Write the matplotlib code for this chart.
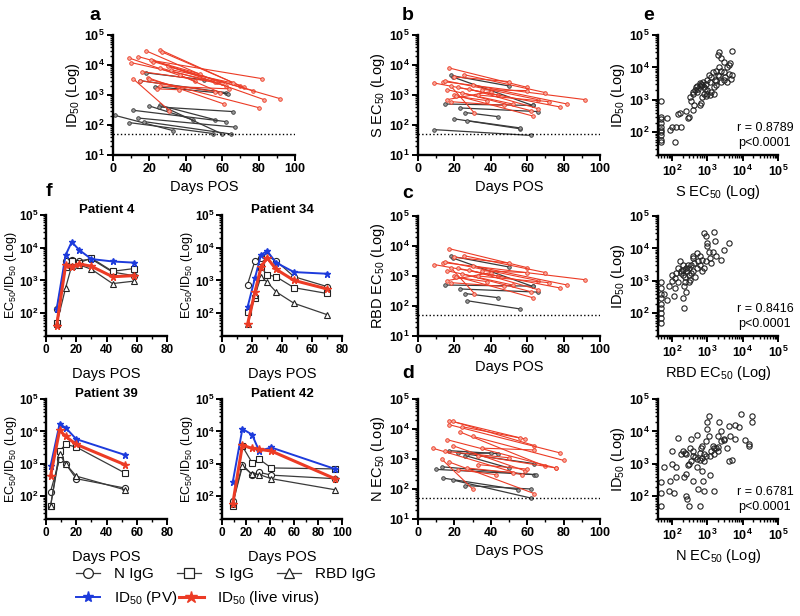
import matplotlib as mpl
import matplotlib.pyplot as plt
import numpy as np
from matplotlib.ticker import LogLocator, FuncFormatter, NullFormatter, MultipleLocator
from matplotlib.lines import Line2D

config = {
    "font.family": ['Liberation Sans', 'DejaVu Sans'],
    "mathtext.fontset": 'custom',
    "mathtext.rm": 'Liberation Sans',
    "mathtext.bf": 'Liberation Sans:bold',
    "mathtext.it": 'Liberation Sans:italic',
}
mpl.rcParams.update(config)

# ---- panel a : ID50 over time (each subject = one line) ----
a_red_days = [[9, 45], [18, 57], [26, 70], [27, 72], [14, 48], [10, 60], [22, 82], [22, 77], [16, 56],
              [11, 31], [19, 61], [20, 80], [26, 64], [26, 62], [30, 92], [21, 83], [15, 56], [32, 66],
              [37, 59], [24, 36]]
a_red_vals = [[17000, 3000], [30000, 2800], [32000, 2000], [27000, 1800], [19000, 5000], [12000, 2500],
              [14000, 3500], [13000, 1400], [6000, 2700], [3500, 300], [3800, 500], [3300, 380],
              [2000, 1600], [8000, 2000], [9000, 750], [15000, 700], [3000, 1300], [7000, 2500],
              [4500, 1200], [1600, 1500]]
a_blk_days = [[18, 50], [15, 62], [23, 63], [20, 44], [26, 56], [25, 66], [11, 62], [1, 33], [14, 67],
              [9, 55], [17, 65], [30, 60]]
a_blk_vals = [[5500, 3200], [3000, 1200], [1900, 1100], [430, 150], [450, 150], [400, 280], [310, 130],
              [210, 65], [170, 85], [120, 52], [130, 50], [350, 50]]

# ---- panel b : S EC50 ----
b_red_days = [[17, 60], [9, 44], [14, 92], [15, 66], [20, 50], [25, 70], [16, 52], [18, 31], [20, 63],
              [16, 40], [22, 78], [28, 66], [35, 60], [30, 82], [18, 47], [24, 62], [21, 38], [33, 72]]
b_red_vals = [[8000, 1800], [2500, 1000], [2800, 700], [3000, 700], [4000, 2800], [4800, 1200],
              [1500, 500], [2000, 250], [1000, 200], [700, 1300], [1800, 400], [1600, 350],
              [1500, 1400], [2200, 500], [600, 450], [1200, 300], [900, 650], [1000, 600]]
b_blk_days = [[18, 50], [15, 63], [23, 66], [26, 44], [20, 56], [27, 56], [9, 62], [19, 63]]
b_blk_vals = [[4500, 2000], [500, 450], [370, 280], [260, 190], [160, 75], [140, 80], [70, 45], [4000, 450]]

# ---- panel c : RBD EC50 ----
c_red_days = [[17, 60], [9, 44], [14, 92], [15, 66], [20, 50], [25, 70], [16, 52], [18, 31], [20, 63],
              [16, 40], [22, 78], [28, 66], [35, 60], [30, 82], [18, 47], [24, 62], [21, 38], [33, 72]]
c_red_vals = [[8200, 1900], [2400, 1000], [2800, 750], [3000, 700], [4200, 2700], [4800, 1300],
              [1500, 500], [1900, 260], [1000, 190], [700, 1300], [1800, 400], [1600, 350],
              [1500, 1300], [2200, 500], [600, 450], [1200, 300], [900, 650], [1000, 600]]
c_blk_days = [[18, 50], [15, 63], [23, 66], [26, 44], [27, 56], [19, 63]]
c_blk_vals = [[4600, 2000], [500, 460], [370, 290], [260, 190], [150, 80], [4000, 450]]

# ---- panel d : N EC50 ----
d_red_days = [[17, 59], [19, 64], [17, 78], [24, 56], [23, 70], [30, 80], [16, 76], [8, 57], [19, 59],
              [15, 50], [13, 30], [17, 64], [22, 43], [33, 76], [33, 60], [27, 52], [35, 64]]
d_red_vals = [[19000, 4600], [18000, 2800], [14000, 1600], [12000, 5000], [8000, 570], [5700, 900],
              [4400, 500], [2300, 300], [2800, 400], [1800, 1100], [1000, 100], [800, 70], [440, 300],
              [1300, 500], [650, 460], [500, 350], [2300, 2000]]
d_blk_days = [[17, 44], [22, 64], [26, 50], [13, 64], [10, 65], [14, 55], [19, 62], [26, 62], [27, 40]]
d_blk_vals = [[1900, 1500], [1600, 700], [1300, 500], [550, 300], [450, 300], [230, 95], [200, 50],
              [130, 100], [1500, 1600]]

# ---- panel e : correlations ----
e_s_ec50 = [50, 50, 50, 50, 50, 50, 50, 50, 50, 50, 70, 90, 100, 130, 120, 180, 150, 170, 250, 280, 300,
            330, 350, 380, 400, 420, 450, 480, 500, 550, 600, 650, 700, 750, 800, 850, 900, 1000, 1100,
            1200, 1300, 1400, 1500, 1600, 1700, 1800, 2000, 2200, 2500, 2000, 2200, 2500, 3000, 3500,
            4000, 4500, 5000, 5000, 4800, 3000, 3200, 1000, 900, 1200, 600, 650, 700, 1000, 400, 500,
            600, 1500, 1800, 2500, 3500, 3000, 4000, 2200, 1300, 800]
e_s_id50 = [900, 300, 250, 200, 150, 120, 100, 80, 60, 50, 280, 120, 150, 150, 50, 150, 380, 400, 450,
            280, 300, 1200, 900, 1500, 500, 700, 2000, 2500, 1800, 2200, 2600, 3000, 2800, 3500, 1500,
            2200, 3000, 4000, 6000, 3500, 5000, 7000, 2500, 4200, 7500, 3800, 6000, 5500, 8000, 25000,
            30000, 20000, 15000, 10000, 12000, 14000, 33000, 6000, 4500, 4000, 5000, 1500, 1300, 1400,
            700, 800, 1200, 2000, 1800, 2600, 3200, 1500, 2800, 3500, 3500, 7000, 6500, 10000, 1800, 2500]

e_rbd_ec50 = [50, 50, 50, 50, 50, 50, 50, 50, 50, 60, 70, 80, 100, 100, 110, 120, 130, 150, 170, 180,
              200, 200, 220, 220, 230, 240, 250, 260, 280, 300, 330, 350, 380, 400, 420, 450, 500, 500,
              550, 600, 700, 800, 900, 1000, 1000, 1100, 1200, 1300, 1400, 1500, 1600, 1800, 2500, 3000,
              4000, 200, 300, 150, 120, 400, 600, 700, 800, 900, 300, 350, 250, 180, 200]
e_rbd_id50 = [900, 600, 400, 300, 200, 150, 100, 70, 50, 400, 250, 700, 1000, 1500, 350, 1200, 1800, 2500,
              4000, 2000, 3000, 1500, 150, 700, 900, 1300, 450, 2000, 3000, 2500, 1100, 1800, 5000, 6000,
              3500, 1300, 2500, 7000, 4000, 6000, 4500, 30000, 25000, 12000, 15000, 8000, 5000, 3500,
              8000, 33000, 17000, 6000, 4500, 9000, 15000, 300, 900, 900, 600, 2000, 3000, 2000, 2500,
              4000, 1500, 3000, 2500, 1700, 2200]

e_n_ec50 = [50, 50, 50, 60, 80, 90, 100, 100, 110, 130, 130, 150, 180, 200, 220, 230, 250, 250, 270, 280,
            300, 300, 330, 350, 380, 400, 450, 500, 500, 550, 600, 600, 650, 700, 700, 750, 800, 800, 900,
            900, 1000, 1000, 1100, 1100, 1200, 1300, 1400, 1500, 1500, 1800, 2000, 2200, 2500, 2000, 3000,
            3500, 4000, 4000, 4500, 5000, 6000, 6000, 8000, 9000, 12000, 15000, 18000, 18000, 15000, 2500,
            3000, 1500, 700, 500, 400, 350, 250, 600, 800, 1200, 2000]
e_n_id50 = [50, 130, 280, 800, 150, 300, 1000, 2500, 130, 400, 800, 6500, 2000, 2500, 400, 2200, 100, 500,
            80, 900, 1000, 50, 3000, 6000, 300, 2500, 1600, 7500, 800, 170, 50, 1300, 3000, 600, 1500, 300,
            150, 2000, 5000, 1800, 12000, 20000, 7000, 30000, 450, 2500, 3500, 150, 2000, 3000, 2500, 20000,
            10000, 7000, 6000, 3000, 15000, 1200, 7000, 1300, 16000, 6000, 14000, 35000, 5500, 4000, 30000,
            20000, 3500, 5000, 5500, 3000, 3500, 1400, 1800, 1200, 2000, 2200, 1200, 1800, 3200]

# ---- panel f : individual patients ----
p_names = ['Patient 4', 'Patient 34', 'Patient 39', 'Patient 42']
p_days = [[7, 13, 17, 22, 30, 44, 58],
          [17, 22, 26, 30, 36, 48, 70],
          [3, 9, 13, 20, 52],
          [9, 17, 25, 31, 41, 94]]
p_n = [[130, 4000, 4200, 4000, 4500, 1800, 1400],
       [750, 4000, 5000, 5500, 4000, 1300, 650],
       [140, 1400, 1000, 350, 180],
       [70, 950, 470, 550, 450, 350]]
p_s = [[50, 2500, 4000, 3500, 4800, 1900, 2300],
       [110, 300, 2500, 1500, 1300, 600, 400],
       [50, 2500, 4000, 3300, 530],
       [50, 3500, 1100, 1400, 750, 700]]
p_rbd = [[45, 600, 2800, 3000, 2200, 800, 950],
         [45, 350, 1300, 900, 450, 200, 90],
         [50, 2000, 1000, 420, 160],
         [60, 850, 480, 470, 350, 160]]
p_pv = [[130, 6000, 15000, 8500, 4500, 3800, 3500],
        [150, 1200, 6000, 8000, 3500, 1800, 1600],
        [850, 17000, 13000, 5800, 1900],
        [280, 12000, 8000, 2500, 3200, 700]]
p_live = [[40, 3000, 2600, 3200, 2700, 1300, 1400],
          [45, 450, 2500, 5000, 2200, 1000, 550],
          [420, 11000, 7000, 4000, 950],
          [60, 3800, 3000, 2800, 2500, 350]]
p_xmax = [80, 80, 80, 100]

RED = '#ec3b25'
BLUE = '#1d3bdc'
GREY = '#3a3a3a'
W, H = 800, 616


def pos(l, r, t, b):
    return [l / W, 1 - b / H, (r - l) / W, (b - t) / H]


def logfmt(v, p):
    return r'$\mathbf{10^{%d}}$' % int(round(np.log10(v)))


def style(ax, size=9, pad=2):
    for s in ['top', 'right']:
        ax.spines[s].set_visible(False)
    for s in ['left', 'bottom']:
        ax.spines[s].set_linewidth(1.7)
    ax.tick_params(which='major', length=4, width=1.4, labelsize=size, pad=pad)
    ax.tick_params(which='minor', length=2.3, width=1.0)


def logaxis(axis, lo, hi):
    axis.set_major_locator(LogLocator(base=10, numticks=10))
    axis.set_minor_locator(LogLocator(base=10, subs=np.arange(2, 10), numticks=10))
    axis.set_major_formatter(FuncFormatter(logfmt))
    axis.set_minor_formatter(NullFormatter())


def bold_x(ax):
    for t in ax.get_xticklabels():
        t.set_fontweight('bold')


def time_panel(ax, red_d, red_v, blk_d, blk_v, ylab):
    for d, v in zip(blk_d, blk_v):
        ax.plot(d, v, '-o', color=GREY, lw=0.9, ms=2.6, mfc='#999999', mec=GREY, mew=0.6)
    for d, v in zip(red_d, red_v):
        ax.plot(d, v, '-o', color=RED, lw=0.8, ms=2.6, mfc='#f7a99c', mec=RED, mew=0.6)
    ax.axhline(50, ls=':', color='k', lw=1.0)
    ax.set_yscale('log')
    ax.set_ylim(10, 1e5)
    ax.set_xlim(0, 100)
    logaxis(ax.yaxis, 10, 1e5)
    ax.xaxis.set_major_locator(MultipleLocator(20))
    ax.xaxis.set_minor_locator(MultipleLocator(10))
    style(ax)
    bold_x(ax)
    ax.set_xlabel('Days POS', fontsize=10.5, labelpad=3)
    ax.set_ylabel(ylab, fontsize=10.5, labelpad=1)


def corr_panel(ax, x, y, xlab, r):
    ax.plot(x, y, 'o', ms=3.8, mfc='none', mec='#222222', mew=0.8, clip_on=False)
    ax.set_xscale('log')
    ax.set_yscale('log')
    ax.set_xlim(40, 1e5)
    ax.set_ylim(20, 1e5)
    logaxis(ax.xaxis, 40, 1e5)
    logaxis(ax.yaxis, 20, 1e5)
    style(ax)
    ax.set_xlabel(xlab, fontsize=10.5, labelpad=3)
    ax.set_ylabel('ID$_{50}$ (Log)', fontsize=10.5, labelpad=1)
    ax.text(1.13, 0.225, 'r = ' + r, transform=ax.transAxes, ha='right', va='center', fontsize=9)
    ax.text(1.11, 0.1, 'p<0.0001', transform=ax.transAxes, ha='right', va='center', fontsize=9)


fig = plt.figure(figsize=(8, 6.16), dpi=100)

ax_a = fig.add_axes(pos(113, 295, 35, 155))
time_panel(ax_a, a_red_days, a_red_vals, a_blk_days, a_blk_vals, 'ID$_{50}$ (Log)')
ax_b = fig.add_axes(pos(418, 600, 35, 155))
time_panel(ax_b, b_red_days, b_red_vals, b_blk_days, b_blk_vals, 'S EC$_{50}$ (Log)')
ax_c = fig.add_axes(pos(418, 600, 216, 336))
time_panel(ax_c, c_red_days, c_red_vals, c_blk_days, c_blk_vals, 'RBD EC$_{50}$ (Log)')
ax_d = fig.add_axes(pos(418, 600, 399, 519))
time_panel(ax_d, d_red_days, d_red_vals, d_blk_days, d_blk_vals, 'N EC$_{50}$ (Log)')

ax_e1 = fig.add_axes(pos(658, 778, 35, 155))
corr_panel(ax_e1, e_s_ec50, e_s_id50, 'S EC$_{50}$ (Log)', '0.8789')
ax_e2 = fig.add_axes(pos(658, 778, 216, 336))
corr_panel(ax_e2, e_rbd_ec50, e_rbd_id50, 'RBD EC$_{50}$ (Log)', '0.8416')
ax_e3 = fig.add_axes(pos(658, 778, 399, 519))
corr_panel(ax_e3, e_n_ec50, e_n_id50, 'N EC$_{50}$ (Log)', '0.6781')

p_rects = [pos(46, 167, 215, 336), pos(222, 342, 215, 336), pos(46, 167, 399, 519), pos(222, 342, 399, 519)]
for i in range(4):
    ax = fig.add_axes(p_rects[i])
    d = p_days[i]
    ax.plot(d, p_n[i], '-o', color=GREY, lw=0.9, ms=4.4, mfc='white', mec='#222222', mew=0.8)
    ax.plot(d, p_s[i], '-s', color=GREY, lw=0.9, ms=4.2, mfc='white', mec='#222222', mew=0.8)
    ax.plot(d, p_rbd[i], '-^', color=GREY, lw=0.9, ms=4.4, mfc='white', mec='#222222', mew=0.8)
    ax.plot(d, p_pv[i], '-*', color=BLUE, lw=1.4, ms=4.5)
    ax.plot(d, p_live[i], '-*', color=RED, lw=2.2, ms=5.5)
    ax.set_yscale('log')
    ax.set_ylim(20, 1e5)
    ax.set_xlim(0, p_xmax[i])
    logaxis(ax.yaxis, 20, 1e5)
    ax.xaxis.set_major_locator(MultipleLocator(20))
    ax.xaxis.set_minor_locator(MultipleLocator(10))
    style(ax, size=8.5, pad=1.5)
    bold_x(ax)
    ax.set_xlabel('Days POS', fontsize=10.5, labelpad=8)
    ax.set_ylabel('EC$_{50}$/ID$_{50}$ (Log)', fontsize=9)
    ax.yaxis.set_label_coords(-0.225, 0.5)
    ax.text(0.5, 1.04, p_names[i], transform=ax.transAxes, ha='center', va='center',
            fontsize=9.5, fontweight='bold')

# panel letters
for lab, x, y in [('a', 95, 15), ('b', 408, 15), ('e', 649, 15), ('f', 49, 192), ('c', 408, 193),
                  ('d', 408, 374)]:
    fig.text(x / W, 1 - y / H, lab, fontsize=14, fontweight='bold', ha='center', va='center')

# legend
row1 = [Line2D([], [], color=GREY, lw=0.9, marker=m, ms=7, mfc='white', mec='#222222', mew=0.9)
        for m in ['o', 's', '^']]
fig.legend(row1, ['N IgG', 'S IgG', 'RBD IgG'], loc='center left', bbox_to_anchor=(76 / W, 1 - 574 / H),
           ncol=3, frameon=False, fontsize=11, handlelength=1.6, handletextpad=0.9,
           columnspacing=1.5, borderpad=0, borderaxespad=0)
row2 = [Line2D([], [], color=BLUE, lw=1.4, marker='*', ms=8),
        Line2D([], [], color=RED, lw=2.2, marker='*', ms=9)]
fig.legend(row2, ['ID$_{50}$ (PV)', 'ID$_{50}$ (live virus)'], loc='center left',
           bbox_to_anchor=(76 / W, 1 - 598 / H), ncol=2, frameon=False, fontsize=11,
           handlelength=1.6, handletextpad=0.9, columnspacing=0.1, borderpad=0, borderaxespad=0)

fig.savefig('out.png', dpi=100)
